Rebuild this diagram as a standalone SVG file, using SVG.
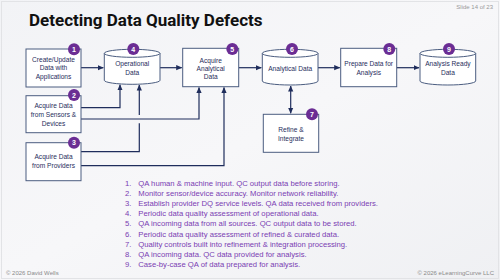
<svg xmlns="http://www.w3.org/2000/svg" width="500" height="280" viewBox="0 0 500 280">
<defs>
<linearGradient id="bg" x1="0" y1="0" x2="1" y2="1">
<stop offset="0" stop-color="#f2f3f6"/>
<stop offset="0.5" stop-color="#f7f7f9"/>
<stop offset="1" stop-color="#eff0f3"/>
</linearGradient>
<marker id="ah" viewBox="0 0 6 6" refX="5.5" refY="3" markerWidth="6" markerHeight="6" markerUnits="userSpaceOnUse" orient="auto-start-reverse">
<path d="M0,0.4 L6,3 L0,5.6 Z" fill="#1f2d5c"/>
</marker>
</defs>
<style>
.box{fill:#fff;stroke:#4b5d80;stroke-width:1}
.lbl{font-family:"Liberation Sans",Arial,sans-serif;font-size:6.6px;fill:#1f2d5c;text-anchor:middle}
.badge{fill:#6b2d94}
.bn{font-family:"Liberation Sans",Arial,sans-serif;font-size:7px;font-weight:bold;fill:#fff;text-anchor:middle}
.con{fill:none;stroke:#1f2d5c;stroke-width:1.2}
.li{font-family:"Liberation Sans",Arial,sans-serif;font-size:7.7px;fill:#7a3db3}
.ft{font-family:"Liberation Sans",Arial,sans-serif;font-size:6px;fill:#8a8a8a}
</style>
<rect x="0" y="0" width="500" height="280" fill="url(#bg)"/>
<rect x="1.5" y="1.5" width="497" height="277" fill="none" stroke="#e2e3e6" stroke-width="1"/>
<text x="29" y="25.7" font-family="Roboto,'Liberation Sans',sans-serif" font-size="17" font-weight="bold" fill="#111">Detecting Data Quality Defects</text>
<text x="493" y="8.8" font-family="'Liberation Sans',sans-serif" font-size="6" fill="#999" text-anchor="end">Slide 14 of 23</text>

<g id="connectors">
<path class="con" d="M81,67.7 H103.3" marker-end="url(#ah)"/>
<path class="con" d="M160,67.7 H181.7" marker-end="url(#ah)"/>
<path class="con" d="M238.7,67.7 H261.3" marker-end="url(#ah)"/>
<path class="con" d="M318,67.7 H339.7" marker-end="url(#ah)"/>
<path class="con" d="M396.7,67.7 H419" marker-end="url(#ah)"/>
<path class="con" d="M290.7,86 V113.3" marker-start="url(#ah)" marker-end="url(#ah)"/>
<path class="con" d="M81,107.7 H120 V84.8" marker-end="url(#ah)"/>
<path class="con" d="M81,119 H199 V87.5" marker-end="url(#ah)"/>
<path class="con" d="M81,151.7 H139.3 V123.3"/>
<path class="con" d="M139.3,115 V85" marker-end="url(#ah)"/>
<path class="con" d="M81,165.7 H224 V87.5" marker-end="url(#ah)"/>
</g>

<g id="n1">
<rect class="box" x="26" y="49" width="55" height="38"/>
<text class="lbl" x="53.5" y="61.6">Create/Update</text>
<text class="lbl" x="53.5" y="70">Data with</text>
<text class="lbl" x="53.5" y="79">Applications</text>
<circle class="badge" cx="74" cy="49.3" r="6"/><text class="bn" x="74" y="51.8">1</text>
</g>
<g id="n2">
<rect class="box" x="26" y="95.7" width="55" height="37"/>
<text class="lbl" x="53.5" y="108.3">Acquire Data</text>
<text class="lbl" x="53.5" y="116.6">from Sensors &amp;</text>
<text class="lbl" x="53.5" y="125.6">Devices</text>
<circle class="badge" cx="74" cy="95" r="6"/><text class="bn" x="74" y="97.5">2</text>
</g>
<g id="n3">
<rect class="box" x="26" y="142.7" width="55" height="38"/>
<text class="lbl" x="53.5" y="159">Acquire Data</text>
<text class="lbl" x="53.5" y="168.3">from Providers</text>
<circle class="badge" cx="74" cy="142.7" r="6"/><text class="bn" x="74" y="145.2">3</text>
</g>
<g id="n4">
<path class="box" d="M104.3,53.3 A27.85,4 0 0 1 160,53.3 V80.3 A27.85,4 0 0 1 104.3,80.3 Z"/>
<path class="box" fill="none" d="M104.3,53.3 A27.85,4 0 0 0 160,53.3"/>
<text class="lbl" x="132.2" y="65.6">Operational</text>
<text class="lbl" x="132.2" y="75">Data</text>
<circle class="badge" cx="133.3" cy="49" r="6"/><text class="bn" x="133.3" y="51.5">4</text>
</g>
<g id="n5">
<rect class="box" x="182.7" y="48.3" width="56" height="38.4"/>
<text class="lbl" x="210.7" y="63">Acquire</text>
<text class="lbl" x="210.7" y="70.6">Analytical</text>
<text class="lbl" x="210.7" y="79">Data</text>
<circle class="badge" cx="232.3" cy="49" r="6"/><text class="bn" x="232.3" y="51.5">5</text>
</g>
<g id="n6">
<path class="box" d="M262.3,53.3 A27.85,4 0 0 1 318,53.3 V81 A27.85,4 0 0 1 262.3,81 Z"/>
<path class="box" fill="none" d="M262.3,53.3 A27.85,4 0 0 0 318,53.3"/>
<text class="lbl" x="290.2" y="70.6">Analytical Data</text>
<circle class="badge" cx="292" cy="49" r="6"/><text class="bn" x="292" y="51.5">6</text>
</g>
<g id="n7">
<rect class="box" x="263.3" y="114.3" width="55.4" height="38"/>
<text class="lbl" x="291" y="131.6">Refine &amp;</text>
<text class="lbl" x="291" y="140.6">Integrate</text>
<circle class="badge" cx="312" cy="114.3" r="6"/><text class="bn" x="312" y="116.8">7</text>
</g>
<g id="n8">
<rect class="box" x="340.7" y="48.3" width="56" height="38.4"/>
<text class="lbl" x="368.7" y="65.6">Prepare Data for</text>
<text class="lbl" x="368.7" y="75">Analysis</text>
<circle class="badge" cx="389.3" cy="49" r="6"/><text class="bn" x="389.3" y="51.5">8</text>
</g>
<g id="n9">
<path class="box" d="M420,53.3 A27.85,4 0 0 1 475.7,53.3 V81 A27.85,4 0 0 1 420,81 Z"/>
<path class="box" fill="none" d="M420,53.3 A27.85,4 0 0 0 475.7,53.3"/>
<text class="lbl" x="447.9" y="65.6">Analysis Ready</text>
<text class="lbl" x="447.9" y="75">Data</text>
<circle class="badge" cx="449" cy="49" r="6"/><text class="bn" x="449" y="51.5">9</text>
</g>

<g id="list">
<text class="li" x="125" y="186">1.</text><text class="li" x="138.3" y="186">QA human &amp; machine input. QC output data before storing.</text>
<text class="li" x="125" y="196.1">2.</text><text class="li" x="138.3" y="196.1">Monitor sensor/device accuracy. Monitor network reliability.</text>
<text class="li" x="125" y="206.2">3.</text><text class="li" x="138.3" y="206.2">Establish provider DQ service levels. QA data received from providers.</text>
<text class="li" x="125" y="216.3">4.</text><text class="li" x="138.3" y="216.3">Periodic data quality assessment of operational data.</text>
<text class="li" x="125" y="226.4">5.</text><text class="li" x="138.3" y="226.4">QA incoming data from all sources. QC output data to be stored.</text>
<text class="li" x="125" y="236.5">6.</text><text class="li" x="138.3" y="236.5">Periodic data quality assessment of refined &amp; curated data.</text>
<text class="li" x="125" y="246.6">7.</text><text class="li" x="138.3" y="246.6">Quality controls built into refinement &amp; integration processing.</text>
<text class="li" x="125" y="256.7">8.</text><text class="li" x="138.3" y="256.7">QA incoming data. QC data provided for analysis.</text>
<text class="li" x="125" y="266.8">9.</text><text class="li" x="138.3" y="266.8">Case-by-case QA of data prepared for analysis.</text>
</g>
<text class="ft" x="6" y="275">© 2026 David Wells</text>
<text class="ft" x="494" y="275" text-anchor="end">© 2026 eLearningCurve LLC</text>
</svg>
